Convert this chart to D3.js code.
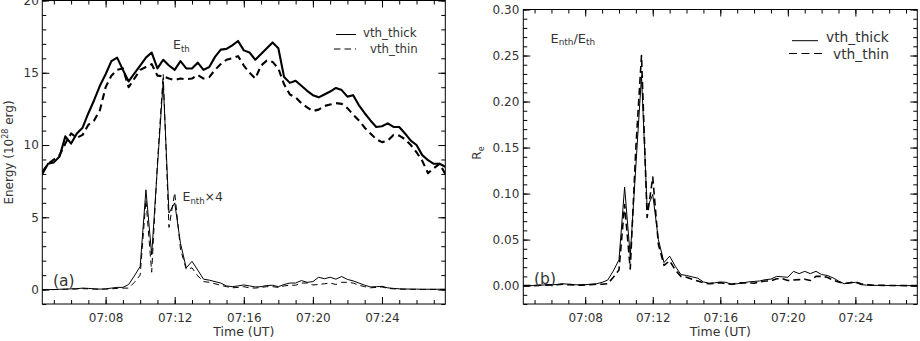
<!DOCTYPE html>
<html>
<head>
<meta charset="utf-8">
<script src="https://cdn.jsdelivr.net/npm/d3@7"></script>
<style>
  body { margin: 0; background: #fff; }
  svg text { font-family: "DejaVu Sans", sans-serif; fill: #333; }
  .axis text { font-size: 12px; }
</style>
</head>
<body>
<div id="chart"></div>
<script>
// sample times (20 s cadence)
const times = [
  "07:04:20","07:04:40","07:05:00","07:05:20","07:05:40","07:06:00","07:06:20","07:06:40","07:07:00","07:07:20",
  "07:07:40","07:08:00","07:08:20","07:08:40","07:09:00","07:09:20","07:09:40","07:10:00","07:10:20","07:10:40",
  "07:11:00","07:11:20","07:11:40","07:12:00","07:12:20","07:12:40","07:13:00","07:13:20","07:13:40","07:14:00",
  "07:14:20","07:14:40","07:15:00","07:15:20","07:15:40","07:16:00","07:16:20","07:16:40","07:17:00","07:17:20",
  "07:17:40","07:18:00","07:18:20","07:18:40","07:19:00","07:19:20","07:19:40","07:20:00","07:20:20","07:20:40",
  "07:21:00","07:21:20","07:21:40","07:22:00","07:22:20","07:22:40","07:23:00","07:23:20","07:23:40","07:24:00",
  "07:24:20","07:24:40","07:25:00","07:25:20","07:25:40","07:26:00","07:26:20","07:26:40","07:27:00","07:27:20",
  "07:27:40"
];

// panel (a): thermal energy, 10^28 erg
const ethThick = [
  8.0, 8.7, 8.8, 9.2, 10.6, 10.1, 10.8, 11.2, 12.2, 13.1,
  14.1, 14.9, 15.8, 16.05, 15.2, 14.4, 14.95, 15.5, 16.05, 16.4,
  15.3, 15.9, 15.5, 15.2, 15.8, 15.3, 15.3, 15.7, 15.2, 15.4,
  16.1, 16.6, 16.65, 16.9, 17.2, 16.55, 16.4, 15.9, 16.3, 16.7,
  17.1, 16.7, 14.7, 14.3, 14.45, 14.1, 13.75, 13.45, 13.3, 13.5,
  13.7, 13.95, 13.8, 13.35, 13.45, 12.75, 12.2, 11.7, 11.25, 11.3,
  11.5, 11.25, 11.25, 10.8, 10.3, 10.0, 9.3, 8.95, 8.7, 8.7,
  8.5
];
const ethThin = [
  8.15, 8.7, 9.0, 9.3, 10.1, 10.8, 10.5, 10.7, 11.4, 11.7,
  12.4, 14.0, 14.8, 15.2, 15.3, 14.0, 14.6, 15.2, 15.4, 15.6,
  14.8, 14.75, 14.6, 14.5, 14.6, 14.55, 14.6, 14.85, 14.6, 14.7,
  15.2, 15.6, 15.9, 16.0, 16.15, 15.5, 15.0, 14.6, 15.5, 15.85,
  15.75, 15.3, 14.2, 13.5, 13.3, 12.9, 12.6, 12.35, 12.45, 12.7,
  12.8, 12.9, 12.85, 12.55, 12.1, 11.7, 11.2, 10.8, 10.4, 10.2,
  10.3, 10.7, 10.65, 10.4, 10.0, 9.5, 8.9, 8.05, 8.4, 8.7,
  8.0
];
// non-thermal energy x4
const enthThick = [
  0.0, 0.0, 0.0, 0.02, 0.03, 0.05, 0.06, 0.1, 0.08, 0.05,
  0.03, 0.05, 0.1, 0.15, 0.15, 0.35, 0.95, 1.6, 6.9, 2.4,
  8.5, 14.4, 5.3, 6.0, 3.2, 1.5, 1.95, 1.35, 0.72, 0.65,
  0.55, 0.45, 0.25, 0.2, 0.25, 0.32, 0.25, 0.18, 0.2, 0.28,
  0.3, 0.2, 0.35, 0.45, 0.45, 0.62, 0.5, 0.55, 0.85, 0.75,
  0.85, 0.72, 0.9, 0.7, 0.6, 0.45, 0.3, 0.18, 0.2, 0.22,
  0.12, 0.08, 0.05, 0.04, 0.03, 0.03, 0.02, 0.02, 0.02, 0.02,
  0.02
];
const enthThin = [
  0.0, 0.0, 0.0, 0.01, 0.02, 0.03, 0.04, 0.06, 0.05, 0.03,
  0.02, 0.03, 0.05, 0.08, 0.1, 0.1, 0.5, 1.0, 6.2, 1.2,
  8.8, 14.9, 4.3, 6.7, 2.8, 1.4, 1.5, 0.95, 0.55, 0.5,
  0.4, 0.3, 0.2, 0.12, 0.15, 0.2, 0.12, 0.1, 0.15, 0.2,
  0.2, 0.15, 0.25, 0.3, 0.3, 0.45, 0.45, 0.32, 0.35, 0.4,
  0.45, 0.35, 0.5, 0.5, 0.45, 0.3, 0.2, 0.12, 0.15, 0.18,
  0.08, 0.05, 0.03, 0.02, 0.02, 0.01, 0.01, 0.01, 0.01, 0.01,
  0.01
];

// panel (b): Re = Enth / Eth
const reThick = [
  0.0, 0.0, 0.0, 0.0005, 0.0008, 0.001, 0.0012, 0.002, 0.0015, 0.001,
  0.0007, 0.001, 0.0015, 0.002, 0.0035, 0.006, 0.016, 0.028, 0.107, 0.032,
  0.13, 0.228, 0.084, 0.099, 0.05, 0.025, 0.032, 0.021, 0.012, 0.011,
  0.0095, 0.008, 0.004, 0.0025, 0.003, 0.004, 0.0035, 0.0015, 0.002, 0.003,
  0.004, 0.0045, 0.005, 0.0065, 0.007, 0.01, 0.0095, 0.009, 0.0155, 0.013,
  0.0155, 0.013, 0.0155, 0.012, 0.011, 0.0085, 0.005, 0.002, 0.003, 0.0035,
  0.001, 0.0005, 0.0003, 0.0002, 0.0002, 0.0001, 0.0, 0.0, 0.0, 0.0,
  0.0
];
const reThin = [
  0.0, 0.0, 0.0, 0.0003, 0.0005, 0.0008, 0.001, 0.0015, 0.001, 0.0008,
  0.0005, 0.0008, 0.001, 0.0015, 0.0015, 0.002, 0.009, 0.017, 0.088, 0.018,
  0.15, 0.25, 0.074, 0.118, 0.045, 0.022, 0.027, 0.017, 0.01, 0.009,
  0.007, 0.005, 0.003, 0.002, 0.0025, 0.003, 0.002, 0.0015, 0.0025, 0.003,
  0.003, 0.0025, 0.004, 0.005, 0.005, 0.0075, 0.0075, 0.0055, 0.006, 0.0065,
  0.007, 0.0055, 0.01, 0.01, 0.009, 0.006, 0.004, 0.0025, 0.003, 0.004,
  0.002, 0.001, 0.0005, 0.0003, 0.0002, 0.0001, 0.0001, 0.0001, 0.0, 0.0,
  0.0
];

const yTicksA = [0, 5, 10, 15, 20];
const yTicksB = [0, 0.05, 0.10, 0.15, 0.20, 0.25, 0.30];
const legendLabels = ["vth_thick", "vth_thin"];

const parseTime = d3.timeParse("%H:%M:%S");
const tDates = times.map(parseTime);

const svg = d3.select("#chart").append("svg")
    .attr("width", 920)
    .attr("height", 341);

function drawPanel(p) {
    const x = d3.scaleTime()
        .domain([tDates[0], tDates[tDates.length - 1]])
        .range([p.left, p.right]);
    const y = d3.scaleLinear()
        .domain(p.yDomain)
        .range([p.bottom, p.top]);

    const g = svg.append("g");

    g.append("clipPath").attr("id", "clip-" + p.id)
        .append("rect")
        .attr("x", p.left).attr("y", p.top)
        .attr("width", p.right - p.left).attr("height", p.bottom - p.top);

    // minor ticks on all four sides
    const minorX = d3.timeMinute.every(1);
    g.append("g").attr("color", "#000")
        .attr("transform", "translate(0," + p.bottom + ")")
        .call(d3.axisBottom(x).ticks(minorX).tickSize(-4).tickSizeOuter(0).tickFormat(""));
    g.append("g").attr("color", "#000")
        .attr("transform", "translate(0," + p.top + ")")
        .call(d3.axisTop(x).ticks(minorX).tickSize(-4).tickSizeOuter(0).tickFormat(""));
    g.append("g").attr("color", "#000")
        .attr("transform", "translate(" + p.left + ",0)")
        .call(d3.axisLeft(y).tickValues(p.yMinor).tickSize(-4).tickSizeOuter(0).tickFormat(""));
    g.append("g").attr("color", "#000")
        .attr("transform", "translate(" + p.right + ",0)")
        .call(d3.axisRight(y).tickValues(p.yMinor).tickSize(-4).tickSizeOuter(0).tickFormat(""));

    // major ticks + labels
    g.append("g").attr("class", "axis").attr("color", "#000")
        .attr("transform", "translate(0," + p.bottom + ")")
        .call(d3.axisBottom(x).ticks(d3.timeMinute.every(4)).tickSize(-7).tickSizeOuter(0)
            .tickPadding(9).tickFormat(d3.timeFormat("%H:%M")));
    g.append("g").attr("color", "#000")
        .attr("transform", "translate(0," + p.top + ")")
        .call(d3.axisTop(x).ticks(d3.timeMinute.every(4)).tickSize(-7).tickSizeOuter(0).tickFormat(""));
    g.append("g").attr("class", "axis").attr("color", "#000")
        .attr("transform", "translate(" + p.left + ",0)")
        .call(d3.axisLeft(y).tickValues(p.yTicks).tickSize(-7).tickSizeOuter(0)
            .tickPadding(p.yPad).tickFormat(p.yFormat));
    g.append("g").attr("color", "#000")
        .attr("transform", "translate(" + p.right + ",0)")
        .call(d3.axisRight(y).tickValues(p.yTicks).tickSize(-7).tickSizeOuter(0).tickFormat(""));

    g.selectAll(".domain").remove();

    g.append("rect")
        .attr("x", p.left).attr("y", p.top)
        .attr("width", p.right - p.left).attr("height", p.bottom - p.top)
        .attr("fill", "none").attr("stroke", "#000").attr("stroke-width", 1);

    const line = d3.line()
        .x(d => x(d.t))
        .y(d => y(d.v));

    p.series.forEach(s => {
        g.append("path")
            .datum(tDates.map((t, i) => ({t: t, v: s.values[i]})))
            .attr("clip-path", "url(#clip-" + p.id + ")")
            .attr("d", line)
            .attr("fill", "none")
            .attr("stroke", "#000")
            .attr("stroke-width", s.width)
            .attr("stroke-linejoin", "round")
            .attr("stroke-dasharray", s.dash || null);
    });

    // x title
    g.append("text")
        .attr("x", (p.left + p.right) / 2)
        .attr("y", 335.5)
        .attr("text-anchor", "middle")
        .style("font-size", "12.5px")
        .text("Time (UT)");

    return g;
}

// panel (a)
const ga = drawPanel({
    id: "a", left: 42.3, right: 445.3, top: 0.5, bottom: 304,
    yDomain: [-1, 20], yTicks: yTicksA, yMinor: d3.range(-1, 21, 1),
    yFormat: d3.format("d"), yPad: 3.5,
    series: [
        {values: ethThick, width: 2.1},
        {values: ethThin, width: 2.1, dash: "7,4.5"},
        {values: enthThick, width: 1},
        {values: enthThin, width: 1, dash: "6,4"}
    ]
});

// panel (b)
const gb = drawPanel({
    id: "b", left: 523.3, right: 917.3, top: 9.5, bottom: 304,
    yDomain: [-0.02, 0.30], yTicks: yTicksB, yMinor: d3.range(-0.02, 0.301, 0.01),
    yFormat: d3.format(".2f"), yPad: 4,
    series: [
        {values: reThick, width: 1},
        {values: reThin, width: 1.6, dash: "7,4"}
    ]
});

// y titles
const yt = ga.append("text")
    .attr("transform", "translate(12.5,152.5) rotate(-90)")
    .attr("text-anchor", "middle")
    .style("font-size", "12px");
yt.append("tspan").text("Energy (10");
yt.append("tspan").attr("dy", -4.5).style("font-size", "8px").text("28");
yt.append("tspan").attr("dy", 4.5).text(" erg)");

const rt = gb.append("text")
    .attr("transform", "translate(480.5,153) rotate(-90)")
    .attr("text-anchor", "middle")
    .style("font-size", "12px");
rt.append("tspan").text("R");
rt.append("tspan").attr("dy", 3).style("font-size", "8px").text("e");

// annotations
function subText(g, xPos, yPos, size, parts) {
    const t = g.append("text").attr("x", xPos).attr("y", yPos).style("font-size", size + "px");
    let shift = 0;
    parts.forEach(pt => {
        const dy = pt.sub ? 2.5 - shift : -shift;
        shift = pt.sub ? 2.5 : 0;
        t.append("tspan")
            .attr("dy", dy)
            .style("font-size", (pt.sub ? size * 0.68 : size) + "px")
            .text(pt.s);
    });
    return t;
}
subText(ga, 173, 49.3, 12.5, [{s: "E"}, {s: "th", sub: true}]);
subText(ga, 182.5, 201.3, 12.5, [{s: "E"}, {s: "nth", sub: true}, {s: "×4"}]);
subText(gb, 550.5, 42.5, 13, [{s: "E"}, {s: "nth", sub: true}, {s: "/E"}, {s: "th", sub: true}]);

ga.append("text").attr("x", 53).attr("y", 285.5).style("font-size", "15.5px").text("(a)");
gb.append("text").attr("x", 534).attr("y", 283.5).style("font-size", "15.5px").text("(b)");

// legends
function legend(g, items) {
    items.forEach((it, i) => {
        g.append("line")
            .attr("x1", it.x1).attr("x2", it.x2)
            .attr("y1", it.ly).attr("y2", it.ly)
            .attr("stroke", "#000").attr("stroke-width", 1)
            .attr("stroke-dasharray", it.dash || null);
        g.append("text")
            .attr("x", it.tx).attr("y", it.ty)
            .style("font-size", it.size + "px")
            .text(legendLabels[i]);
    });
}
legend(ga, [
    {x1: 336, x2: 356, ly: 34.5, tx: 363, ty: 36.5, size: 11.8},
    {x1: 334, x2: 356, ly: 49, dash: "6.5,4", tx: 370, ty: 52.5, size: 11.8}
]);
legend(gb, [
    {x1: 792, x2: 818, ly: 40.7, tx: 826, ty: 42, size: 13.8},
    {x1: 789, x2: 823, ly: 53.5, dash: "8,4.5", tx: 833, ty: 58.5, size: 13.8}
]);
</script>
</body>
</html>
